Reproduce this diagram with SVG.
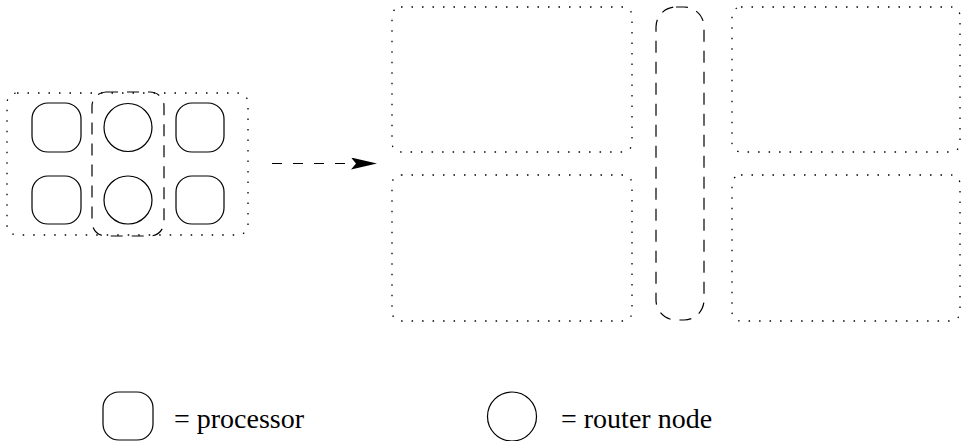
<svg xmlns="http://www.w3.org/2000/svg" width="961" height="441" viewBox="0 0 961 441">
<style>
.bg{fill:#fff}
.solid{fill:none;stroke:#000;stroke-width:1.2}
.dot{fill:none;stroke:#000;stroke-width:1.3;stroke-dasharray:1.5 9}
.dash{fill:none;stroke:#000;stroke-width:1.2;stroke-dasharray:12 9}
.lbl{font-family:"Liberation Serif","Times New Roman",serif;font-size:28px;fill:#000}
</style>
<defs>
<marker id="ah" markerUnits="userSpaceOnUse" markerWidth="28" markerHeight="14" refX="26" refY="6" orient="auto">
<path d="M0,0 L26,6 L0,12 L5,6 Z" fill="#000"/>
</marker>
</defs>
<rect class="bg" width="961" height="441"/>
<g id="small-group">
<rect class="dot" x="7" y="93" width="241" height="142" rx="10"/>
<rect class="dash" x="92" y="92" width="72" height="144" rx="14"/>
</g>
<g id="proc-tl"><rect class="solid" x="32" y="103" width="49" height="49" rx="16"/></g>
<g id="proc-bl"><rect class="solid" x="32" y="176" width="49" height="48" rx="16"/></g>
<g id="proc-tr"><rect class="solid" x="176" y="103" width="48" height="49" rx="16"/></g>
<g id="proc-br"><rect class="solid" x="176" y="176" width="48" height="48" rx="16"/></g>
<g id="router-t"><circle class="solid" cx="128" cy="127.5" r="24"/></g>
<g id="router-b"><circle class="solid" cx="128" cy="200" r="24"/></g>
<g id="connectors">
<line x1="272" y1="163.5" x2="377" y2="163.5" stroke="#000" stroke-width="1.2" stroke-dasharray="10 11" marker-end="url(#ah)"/>
</g>
<g id="big-tl"><rect class="dot" x="392" y="7" width="240" height="145" rx="9"/></g>
<g id="big-bl"><rect class="dot" x="392" y="175" width="240" height="146" rx="9"/></g>
<g id="big-tr"><rect class="dot" x="732" y="7" width="228" height="145" rx="9"/></g>
<g id="big-br"><rect class="dot" x="732" y="175" width="228" height="146" rx="9"/></g>
<g id="big-router"><rect class="dash" x="656" y="7" width="48" height="313" rx="20"/></g>
<g id="legend-processor">
<rect class="solid" x="103" y="392" width="50" height="48" rx="16"/>
<text class="lbl" x="174" y="428">= processor</text>
</g>
<g id="legend-router">
<circle class="solid" cx="512" cy="416.5" r="24.5"/>
<text class="lbl" x="561" y="428">= router node</text>
</g>
</svg>
